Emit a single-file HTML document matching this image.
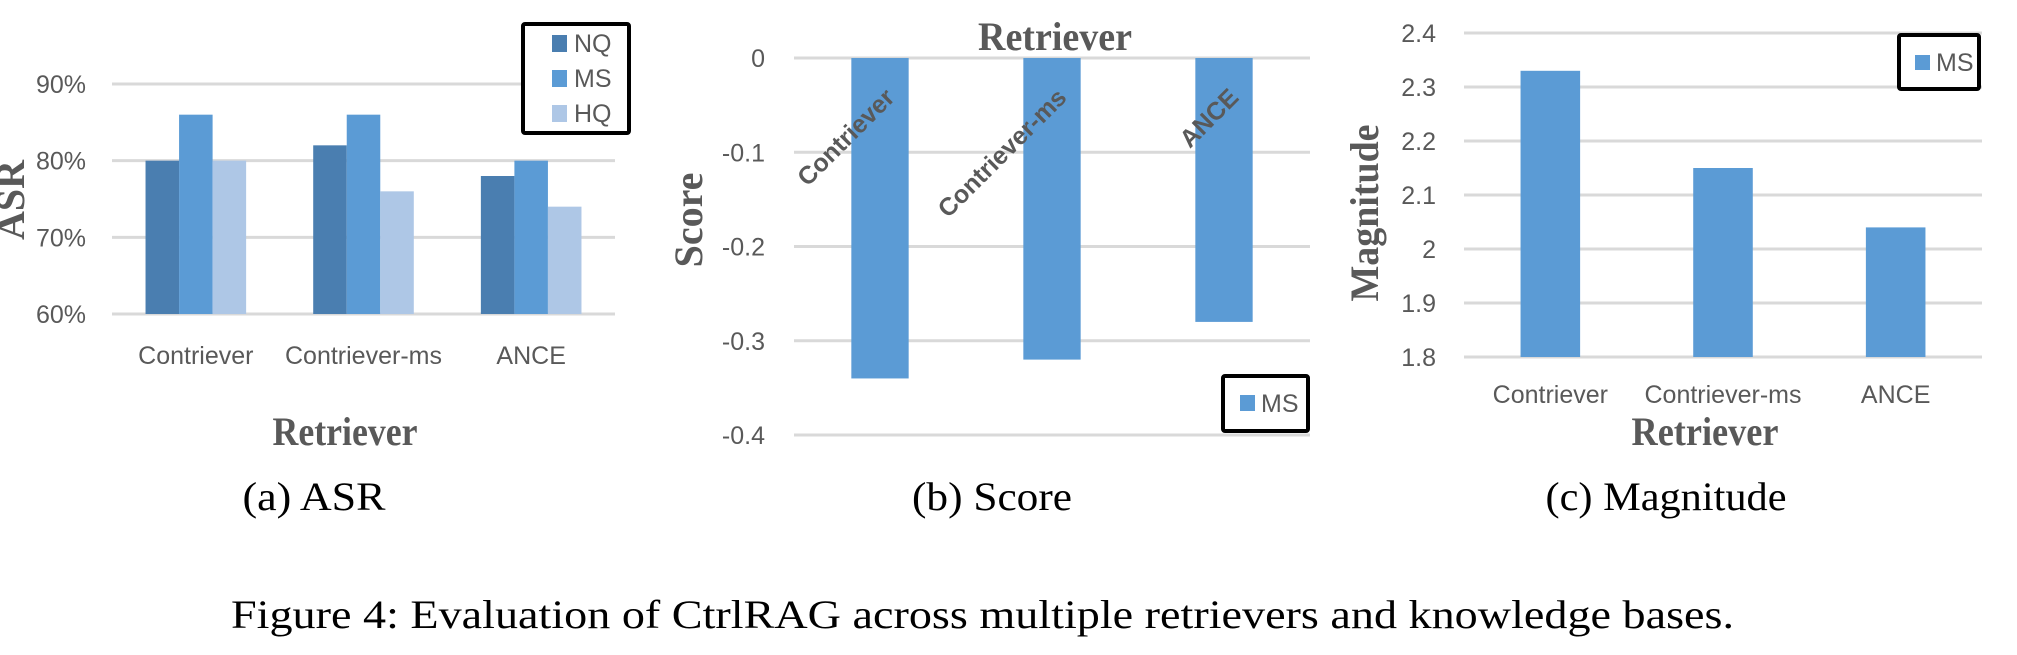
<!DOCTYPE html>
<html><head><meta charset="utf-8"><style>
html,body{margin:0;padding:0;background:#fff;}
svg{display:block;}
.tk{font-family:"Liberation Sans",sans-serif;font-size:25px;fill:#595959;}
.ax{font-family:"Liberation Serif",serif;font-weight:bold;fill:#595959;}
.cap{font-family:"Liberation Serif",serif;fill:#000;}
</style></head><body>
<svg id="fig" width="2017" height="655" viewBox="0 0 2017 655" xmlns="http://www.w3.org/2000/svg">
<g id="ga"></g>
<g id="gb"></g>
<g id="gc"></g>
<text class="cap" x="231" y="628" font-size="40" textLength="1503" lengthAdjust="spacingAndGlyphs">Figure 4: Evaluation of CtrlRAG across multiple retrievers and knowledge bases.</text>
</svg>
<script>
const categories = ["Contriever", "Contriever-ms", "ANCE"];
const asrNQ = [80, 82, 78];
const asrMS = [86, 86, 80];
const asrHQ = [80, 76, 74];
const asrTicks = [60, 70, 80, 90];
const asrTickLabels = ["60%", "70%", "80%", "90%"];
const scoreMS = [-0.34, -0.32, -0.28];
const scoreTicks = [0, -0.1, -0.2, -0.3, -0.4];
const scoreTickLabels = ["0", "-0.1", "-0.2", "-0.3", "-0.4"];
const magMS = [2.33, 2.15, 2.04];
const magTicks = [1.8, 1.9, 2.0, 2.1, 2.2, 2.3, 2.4];
const magTickLabels = ["1.8", "1.9", "2", "2.1", "2.2", "2.3", "2.4"];

const NS = "http://www.w3.org/2000/svg";
function mk(parent, tag, attrs, text) {
  const e = document.createElementNS(NS, tag);
  for (const k in attrs) e.setAttribute(k, attrs[k]);
  if (text !== undefined) e.textContent = text;
  parent.appendChild(e);
  return e;
}
const C_NQ = "#4a7eb0", C_MS = "#5b9bd5", C_HQ = "#aec7e6";

// ---------- Chart A ----------
(function(){
  const g = document.getElementById("ga");
  const x0 = 112, x1 = 615, yTop = 84, yBot = 314, vMin = 60, vMax = 90;
  const y = v => yBot - (v - vMin) / (vMax - vMin) * (yBot - yTop);
  const band = (x1 - x0) / categories.length;
  asrTicks.forEach((t, i) => {
    const l = mk(g, "line", {x1: x0, x2: x1, y1: y(t), y2: y(t), stroke: "#d9d9d9", "stroke-width": 3});
    
    
    const tx = mk(g, "text", {class: "tk", x: 86, y: y(t) + 9, "text-anchor": "end"}, asrTickLabels[i]);
    
    
  });
  const series = [[asrNQ, C_NQ, "nq"], [asrMS, C_MS, "ms"], [asrHQ, C_HQ, "hq"]];
  const bw = band * 0.6 / 3;
  categories.forEach((c, i) => {
    const gx = x0 + band * i + band * 0.2;
    series.forEach((s, j) => {
      const r = mk(g, "rect", {x: gx + j * bw, y: y(s[0][i]), width: bw, height: yBot - y(s[0][i]), fill: s[1]});
      
      
    });
    const t = mk(g, "text", {class: "tk", x: x0 + band * (i + 0.5), y: 364, "text-anchor": "middle"}, c);
    
    
  });
  const xt = mk(g, "text", {class: "ax", x: 345, y: 445, "font-size": 40, "text-anchor": "middle", textLength: 145, lengthAdjust: "spacingAndGlyphs"}, "Retriever");
  
  
  const yt = mk(g, "text", {class: "ax", x: 0, y: 0, "font-size": 40, "text-anchor": "middle", transform: "translate(24,200) rotate(-90)"}, "ASR");
  
  
  const lg = mk(g, "g", {});
  
  
  mk(lg, "rect", {x: 523, y: 24, width: 106, height: 109, fill: "#fff", stroke: "#000", "stroke-width": 4, rx: 2});
  [["NQ", C_NQ, 43], ["MS", C_MS, 78], ["HQ", C_HQ, 113]].forEach(e => {
    const it = mk(lg, "g", {});
    
    
    mk(it, "rect", {x: 552, y: e[2] - 8, width: 15, height: 17, fill: e[1]});
    mk(it, "text", {class: "tk", x: 574, y: e[2] + 9}, e[0]);
  });
  const cp = mk(g, "text", {class: "cap", x: 314, y: 510, "font-size": 40, "text-anchor": "middle", textLength: 143, lengthAdjust: "spacingAndGlyphs"}, "(a)  ASR");
  
  
})();

// ---------- Chart B ----------
(function(){
  const g = document.getElementById("gb");
  const x0 = 794, x1 = 1310, yTop = 58, yBot = 435, vMax = 0, vMin = -0.4;
  const y = v => yTop + (vMax - v) / (vMax - vMin) * (yBot - yTop);
  const band = (x1 - x0) / categories.length;
  scoreTicks.forEach((t, i) => {
    const l = mk(g, "line", {x1: x0, x2: x1, y1: y(t), y2: y(t), stroke: "#d9d9d9", "stroke-width": 3});
    
    
    const tx = mk(g, "text", {class: "tk", x: 765, y: y(t) + 9, "text-anchor": "end"}, scoreTickLabels[i]);
    
    
  });
  const bw = band / 3;
  categories.forEach((c, i) => {
    const cx = x0 + band * (i + 0.5);
    const r = mk(g, "rect", {x: cx - bw / 2, y: y(0), width: bw, height: y(scoreMS[i]) - y(0), fill: C_MS});
    
    
    const t = mk(g, "text", {class: "tk", "font-weight": "bold", "font-size": 24, x: 0, y: 0, "text-anchor": "end", transform: "translate(" + (cx + 16) + ",99) rotate(-45)"}, c);
    
    
  });
  const xt = mk(g, "text", {class: "ax", x: 1055, y: 50, "font-size": 40, "text-anchor": "middle", textLength: 154, lengthAdjust: "spacingAndGlyphs"}, "Retriever");
  
  
  const yt = mk(g, "text", {class: "ax", x: 0, y: 0, "font-size": 40, "text-anchor": "middle", transform: "translate(702,220) rotate(-90)"}, "Score");
  
  
  const lg = mk(g, "g", {});
  
  
  mk(lg, "rect", {x: 1223, y: 376, width: 85, height: 55, fill: "#fff", stroke: "#000", "stroke-width": 4, rx: 2});
  mk(lg, "rect", {x: 1240, y: 395, width: 15, height: 16, fill: C_MS});
  mk(lg, "text", {class: "tk", x: 1261, y: 412}, "MS");
  const cp = mk(g, "text", {class: "cap", x: 992, y: 510, "font-size": 40, "text-anchor": "middle", textLength: 160, lengthAdjust: "spacingAndGlyphs"}, "(b)  Score");
  
  
})();

// ---------- Chart C ----------
(function(){
  const g = document.getElementById("gc");
  const x0 = 1464, x1 = 1982, yTop = 33, yBot = 357, vMin = 1.8, vMax = 2.4;
  const y = v => yBot - (v - vMin) / (vMax - vMin) * (yBot - yTop);
  const band = (x1 - x0) / categories.length;
  magTicks.forEach((t, i) => {
    const l = mk(g, "line", {x1: x0, x2: x1, y1: y(t), y2: y(t), stroke: "#d9d9d9", "stroke-width": 3});
    
    
    const tx = mk(g, "text", {class: "tk", x: 1436, y: y(t) + 9, "text-anchor": "end"}, magTickLabels[i]);
    
    
  });
  const bw = band * 0.345;
  categories.forEach((c, i) => {
    const cx = x0 + band * (i + 0.5);
    const r = mk(g, "rect", {x: cx - bw / 2, y: y(magMS[i]), width: bw, height: yBot - y(magMS[i]), fill: C_MS});
    
    
    const t = mk(g, "text", {class: "tk", x: cx, y: 403, "text-anchor": "middle"}, c);
    
    
  });
  const xt = mk(g, "text", {class: "ax", x: 1705, y: 445, "font-size": 40, "text-anchor": "middle", textLength: 147, lengthAdjust: "spacingAndGlyphs"}, "Retriever");
  
  
  const yt = mk(g, "text", {class: "ax", x: 0, y: 0, "font-size": 40, "text-anchor": "middle", textLength: 177, lengthAdjust: "spacingAndGlyphs", transform: "translate(1378,213) rotate(-90)"}, "Magnitude");
  
  
  const lg = mk(g, "g", {});
  
  
  mk(lg, "rect", {x: 1899, y: 35, width: 80, height: 54, fill: "#fff", stroke: "#000", "stroke-width": 4, rx: 2});
  mk(lg, "rect", {x: 1915, y: 55, width: 15, height: 15, fill: C_MS});
  mk(lg, "text", {class: "tk", x: 1936, y: 71}, "MS");
  const cp = mk(g, "text", {class: "cap", x: 1666, y: 510, "font-size": 40, "text-anchor": "middle", textLength: 241, lengthAdjust: "spacingAndGlyphs"}, "(c)  Magnitude");
  
  
})();
</script>
</body></html>
